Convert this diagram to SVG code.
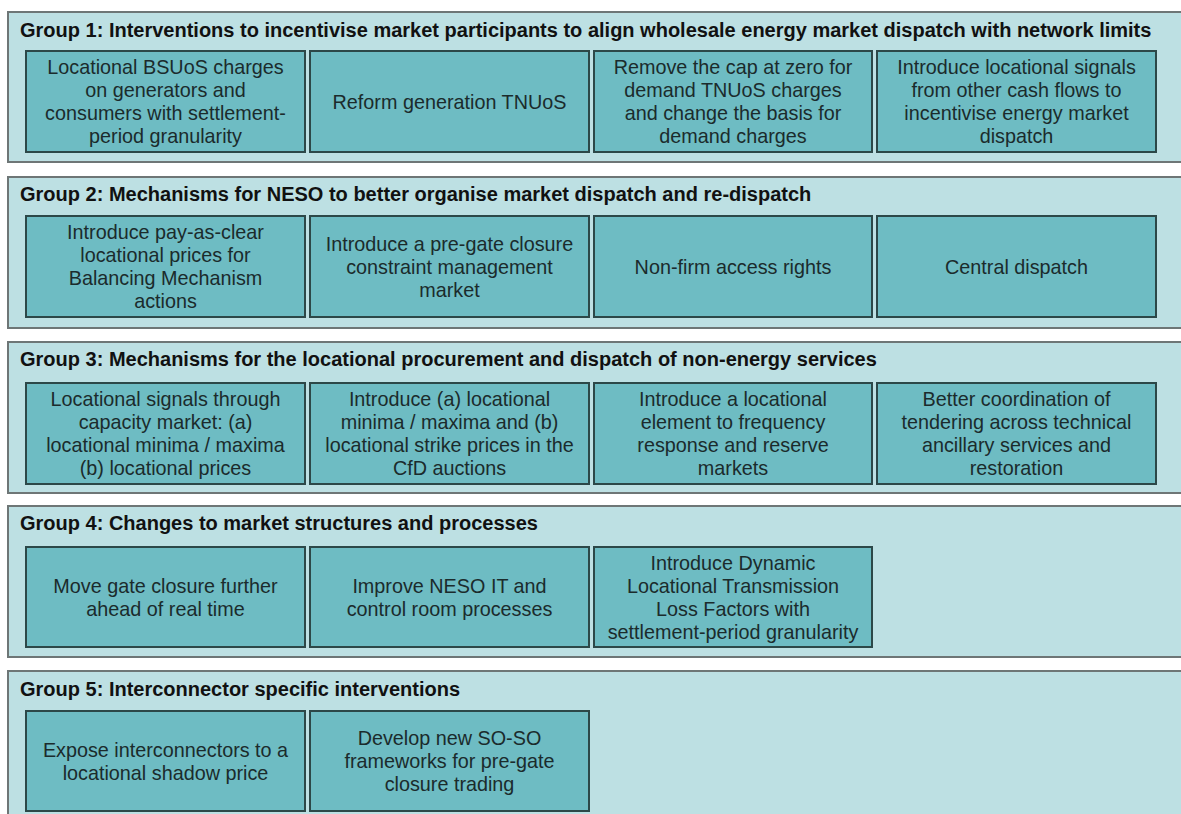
<svg xmlns="http://www.w3.org/2000/svg" width="1181" height="814" viewBox="0 0 1181 814">
<style>
.panel{fill:#bde0e3;stroke:#6e7676;stroke-width:2}
.box{fill:#6ebcc3;stroke:#2c4848;stroke-width:2}
.title{font-family:"Liberation Sans",Arial,sans-serif;font-weight:bold;font-size:20px;fill:#111}
.t{font-family:"Liberation Sans",Arial,sans-serif;font-size:19.8px;fill:#1b2b2c;text-anchor:middle}
</style>
<rect width="1181" height="814" fill="#ffffff"/>
<g id="group1">
<rect class="panel" x="8" y="12" width="1190" height="150"/>
<text class="title" x="20" y="37">Group 1: Interventions to incentivise market participants to align wholesale energy market dispatch with network limits</text>
<g id="g1n1"><rect class="box" x="26" y="51" width="279" height="101"/>
<text class="t" y="74"><tspan x="165.5">Locational BSUoS charges</tspan><tspan x="165.5" dy="23">on generators and</tspan><tspan x="165.5" dy="23">consumers with settlement-</tspan><tspan x="165.5" dy="23">period granularity</tspan></text></g>
<g id="g1n2"><rect class="box" x="310" y="51" width="279" height="101"/>
<text class="t" x="449.5" y="108.5">Reform generation TNUoS</text></g>
<g id="g1n3"><rect class="box" x="594" y="51" width="278" height="101"/>
<text class="t" y="74"><tspan x="733">Remove the cap at zero for</tspan><tspan x="733" dy="23">demand TNUoS charges</tspan><tspan x="733" dy="23">and change the basis for</tspan><tspan x="733" dy="23">demand charges</tspan></text></g>
<g id="g1n4"><rect class="box" x="877" y="51" width="279" height="101"/>
<text class="t" y="74"><tspan x="1016.5">Introduce locational signals</tspan><tspan x="1016.5" dy="23">from other cash flows to</tspan><tspan x="1016.5" dy="23">incentivise energy market</tspan><tspan x="1016.5" dy="23">dispatch</tspan></text></g>
</g>
<g id="group2">
<rect class="panel" x="8" y="177" width="1190" height="151"/>
<text class="title" x="20" y="201">Group 2: Mechanisms for NESO to better organise market dispatch and re-dispatch</text>
<g id="g2n1"><rect class="box" x="26" y="216" width="279" height="101"/>
<text class="t" y="239"><tspan x="165.5">Introduce pay-as-clear</tspan><tspan x="165.5" dy="23">locational prices for</tspan><tspan x="165.5" dy="23">Balancing Mechanism</tspan><tspan x="165.5" dy="23">actions</tspan></text></g>
<g id="g2n2"><rect class="box" x="310" y="216" width="279" height="101"/>
<text class="t" y="250.5"><tspan x="449.5">Introduce a pre-gate closure</tspan><tspan x="449.5" dy="23">constraint management</tspan><tspan x="449.5" dy="23">market</tspan></text></g>
<g id="g2n3"><rect class="box" x="594" y="216" width="278" height="101"/>
<text class="t" x="733" y="273.5">Non-firm access rights</text></g>
<g id="g2n4"><rect class="box" x="877" y="216" width="279" height="101"/>
<text class="t" x="1016.5" y="273.5">Central dispatch</text></g>
</g>
<g id="group3">
<rect class="panel" x="8" y="342" width="1190" height="151"/>
<text class="title" x="20" y="366">Group 3: Mechanisms for the locational procurement and dispatch of non-energy services</text>
<g id="g3n1"><rect class="box" x="26" y="383" width="279" height="101"/>
<text class="t" y="406"><tspan x="165.5">Locational signals through</tspan><tspan x="165.5" dy="23">capacity market: (a)</tspan><tspan x="165.5" dy="23">locational minima / maxima</tspan><tspan x="165.5" dy="23">(b) locational prices</tspan></text></g>
<g id="g3n2"><rect class="box" x="310" y="383" width="279" height="101"/>
<text class="t" y="406"><tspan x="449.5">Introduce (a) locational</tspan><tspan x="449.5" dy="23">minima / maxima and (b)</tspan><tspan x="449.5" dy="23">locational strike prices in the</tspan><tspan x="449.5" dy="23">CfD auctions</tspan></text></g>
<g id="g3n3"><rect class="box" x="594" y="383" width="278" height="101"/>
<text class="t" y="406"><tspan x="733">Introduce a locational</tspan><tspan x="733" dy="23">element to frequency</tspan><tspan x="733" dy="23">response and reserve</tspan><tspan x="733" dy="23">markets</tspan></text></g>
<g id="g3n4"><rect class="box" x="877" y="383" width="279" height="101"/>
<text class="t" y="406"><tspan x="1016.5">Better coordination of</tspan><tspan x="1016.5" dy="23">tendering across technical</tspan><tspan x="1016.5" dy="23">ancillary services and</tspan><tspan x="1016.5" dy="23">restoration</tspan></text></g>
</g>
<g id="group4">
<rect class="panel" x="8" y="506" width="1190" height="151"/>
<text class="title" x="20" y="530">Group 4: Changes to market structures and processes</text>
<g id="g4n1"><rect class="box" x="26" y="547" width="279" height="100"/>
<text class="t" y="592.5"><tspan x="165.5">Move gate closure further</tspan><tspan x="165.5" dy="23">ahead of real time</tspan></text></g>
<g id="g4n2"><rect class="box" x="310" y="547" width="279" height="100"/>
<text class="t" y="592.5"><tspan x="449.5">Improve NESO IT and</tspan><tspan x="449.5" dy="23">control room processes</tspan></text></g>
<g id="g4n3"><rect class="box" x="594" y="547" width="278" height="100"/>
<text class="t" y="569.5"><tspan x="733">Introduce Dynamic</tspan><tspan x="733" dy="23">Locational Transmission</tspan><tspan x="733" dy="23">Loss Factors with</tspan><tspan x="733" dy="23">settlement-period granularity</tspan></text></g>
</g>
<g id="group5">
<rect class="panel" x="8" y="671" width="1190" height="160"/>
<text class="title" x="20" y="696">Group 5: Interconnector specific interventions</text>
<g id="g5n1"><rect class="box" x="26" y="711" width="279" height="100"/>
<text class="t" y="756.5"><tspan x="165.5">Expose interconnectors to a</tspan><tspan x="165.5" dy="23">locational shadow price</tspan></text></g>
<g id="g5n2"><rect class="box" x="310" y="711" width="279" height="100"/>
<text class="t" y="745"><tspan x="449.5">Develop new SO-SO</tspan><tspan x="449.5" dy="23">frameworks for pre-gate</tspan><tspan x="449.5" dy="23">closure trading</tspan></text></g>
</g>
<g id="connectors"/>
</svg>
